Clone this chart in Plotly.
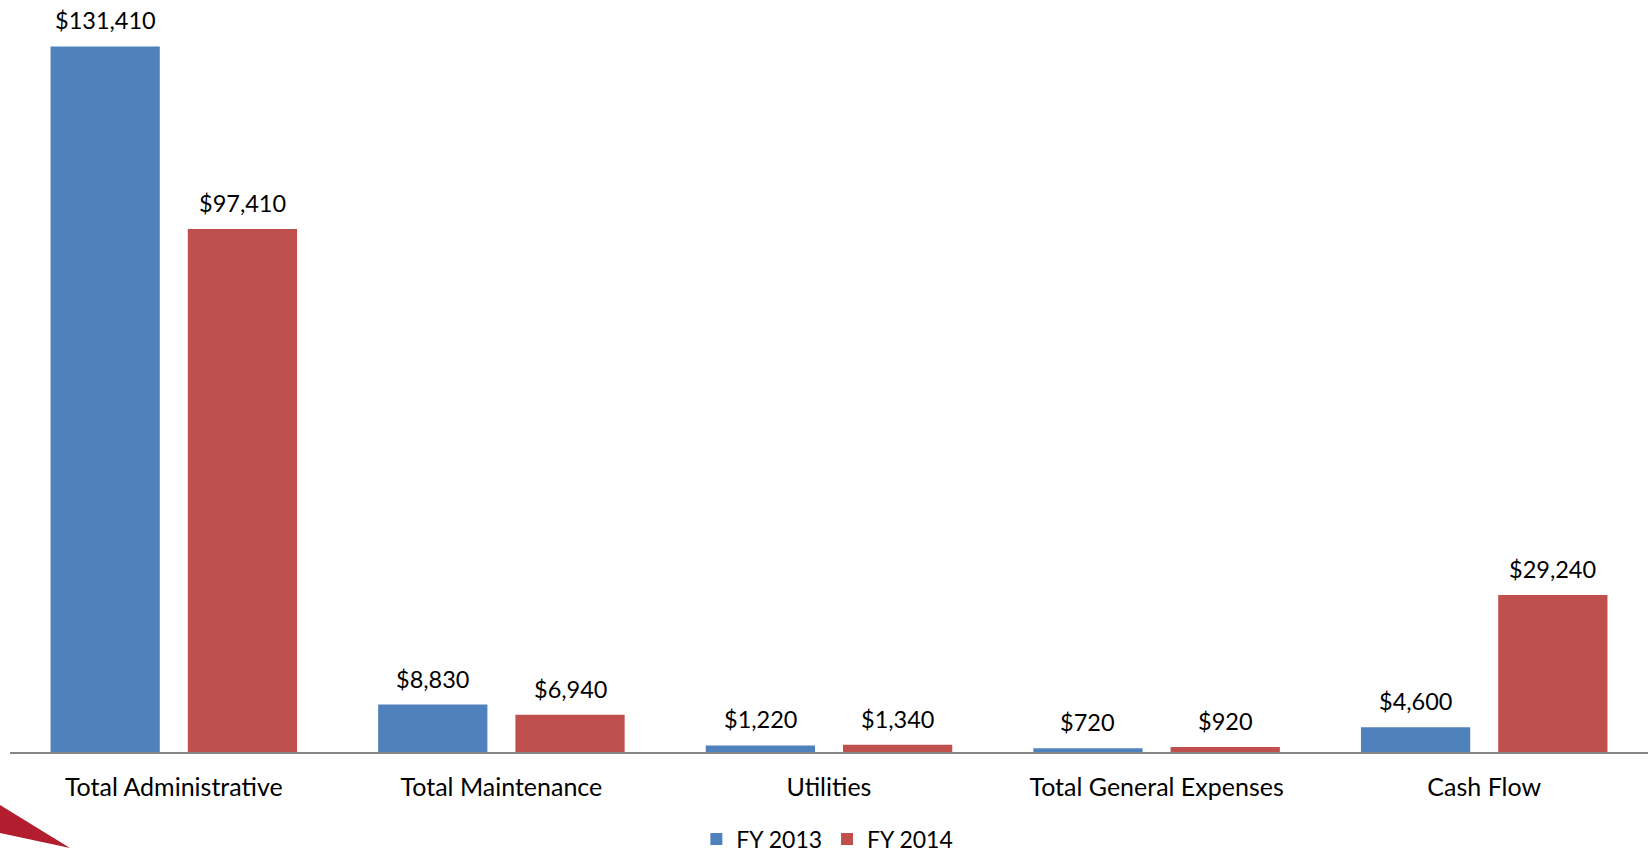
import plotly.graph_objects as go

categories = ["Total Administrative", "Total Maintenance", "Utilities",
              "Total General Expenses", "Cash Flow"]
fy2013 = [131410, 8830, 1220, 720, 4600]
fy2014 = [97410, 6940, 1340, 920, 29240]
series_names = ["FY 2013", "FY 2014"]

BLUE = "#4F81BD"
RED = "#C0504D"
FONT = "Lato"

W, H = 1650, 855
ML, MR, MT, MB = 10, 2, 0, 103
BARGAP = 0.162
BARGROUPGAP = 0.204

fig = go.Figure()
for name, vals, col in zip(series_names, [fy2013, fy2014], [BLUE, RED]):
    fig.add_trace(go.Bar(
        x=categories, y=vals, name=name,
        marker=dict(color=col, line=dict(width=0)),
        hoverinfo="x+y+name",
    ))

# value labels above each bar, offset to sit over the grouped bar
plot_w = W - ML - MR
plot_h = H - MT - MB
slot = plot_w / len(categories) * (1 - BARGAP) / 2
for k, vals in enumerate([fy2013, fy2014]):
    shift = (k - 0.5) * slot
    for c, v in zip(categories, vals):
        fig.add_annotation(
            x=c, y=v, xref="x", yref="y",
            text=f"${v:,}", showarrow=False,
            xshift=shift, yshift=10, yanchor="bottom",
            font=dict(family=FONT, size=23.5, color="#000000"),
        )

# red corner wedge
fig.add_shape(
    type="path", xref="paper", yref="paper",
    path=f"M {-ML/plot_w} {-(805-plot_h)/plot_h} L {(70-ML)/plot_w} {-(848-plot_h)/plot_h} "
         f"L {-ML/plot_w} {-(833-plot_h)/plot_h} Z",
    fillcolor="#B21E2E", line=dict(width=0), layer="above",
)

fig.update_layout(
    width=W, height=H,
    margin=dict(l=ML, r=MR, t=MT, b=MB, pad=0, autoexpand=False),
    paper_bgcolor="white", plot_bgcolor="white",
    barmode="group", bargap=BARGAP, bargroupgap=BARGROUPGAP,
    font=dict(family=FONT, size=25, color="#000000"),
    showlegend=True,
    legend=dict(
        orientation="h", x=0.499, xanchor="center",
        y=-(839 - plot_h) / plot_h, yanchor="middle",
        font=dict(family=FONT, size=23, color="#000000"),
        itemwidth=30, tracegroupgap=0,
    ),
    xaxis=dict(
        showline=True, linecolor="#868686", linewidth=2,
        showgrid=False, zeroline=False, ticks="",
        ticklabelstandoff=12, automargin=False,
        tickfont=dict(family=FONT, size=25, color="#000000"),
    ),
    yaxis=dict(
        range=[0, 140070], visible=False, showgrid=False, zeroline=False,
        automargin=False,
    ),
)

fig.write_html("out.html")
